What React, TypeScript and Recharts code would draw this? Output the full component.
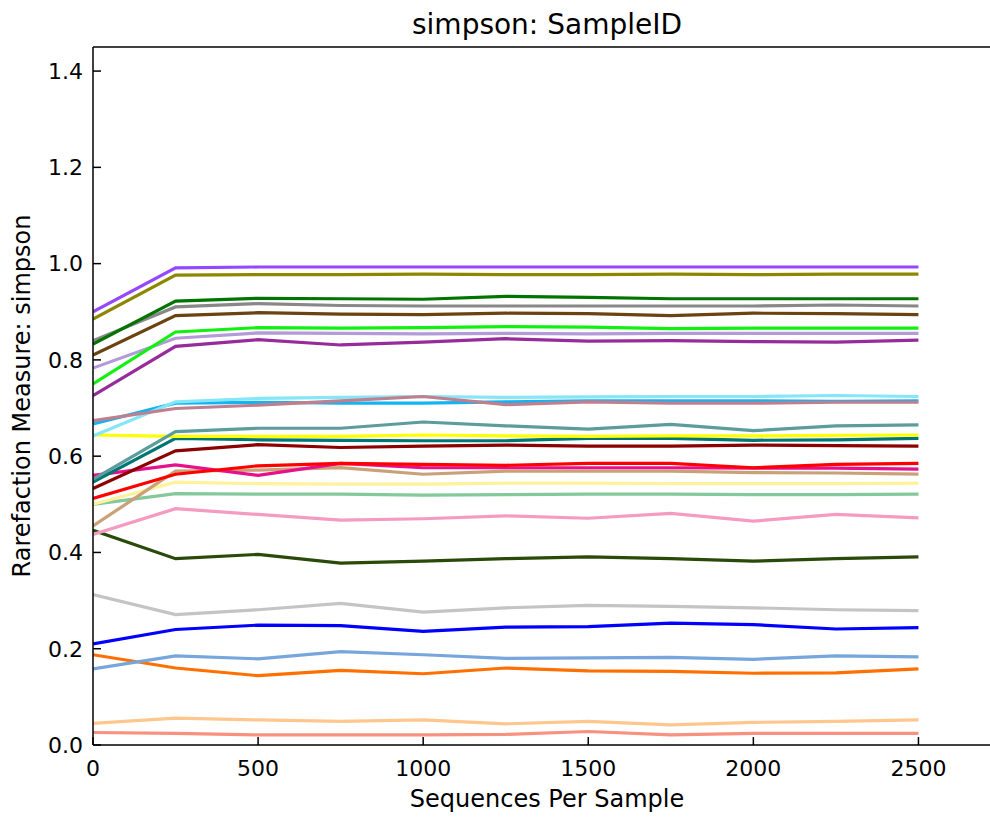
import { LineChart, Line, XAxis, YAxis } from 'recharts'

const depths = [0, 250, 500, 750, 1000, 1250, 1500, 1750, 2000, 2250, 2500]
const xTicks = [0, 500, 1000, 1500, 2000, 2500]
const yTicks = [0, 0.2, 0.4, 0.6, 0.8, 1.0, 1.2, 1.4]

const sPurple = [0.9, 0.991, 0.993, 0.993, 0.993, 0.993, 0.993, 0.993, 0.993, 0.993, 0.993]
const sOlive = [0.885, 0.976, 0.977, 0.977, 0.978, 0.977, 0.977, 0.978, 0.977, 0.978, 0.978]
const sDarkGreen = [0.833, 0.922, 0.928, 0.927, 0.926, 0.932, 0.93, 0.927, 0.927, 0.927, 0.927]
const sGray = [0.84, 0.91, 0.917, 0.913, 0.912, 0.912, 0.912, 0.912, 0.912, 0.914, 0.912]
const sBrown = [0.81, 0.892, 0.898, 0.895, 0.894, 0.897, 0.896, 0.892, 0.897, 0.896, 0.894]
const sLime = [0.75, 0.858, 0.867, 0.866, 0.867, 0.869, 0.868, 0.865, 0.866, 0.866, 0.866]
const sLavender = [0.783, 0.845, 0.856, 0.855, 0.854, 0.855, 0.854, 0.855, 0.855, 0.855, 0.855]
const sMagentaPurple = [0.726, 0.828, 0.842, 0.831, 0.837, 0.844, 0.839, 0.84, 0.838, 0.837, 0.841]
const sDeepSky = [0.667, 0.71, 0.712, 0.71, 0.71, 0.713, 0.715, 0.715, 0.715, 0.714, 0.715]
const sLightCyan = [0.642, 0.713, 0.72, 0.722, 0.724, 0.722, 0.723, 0.724, 0.724, 0.726, 0.724]
const sRosy = [0.674, 0.699, 0.706, 0.715, 0.724, 0.707, 0.713, 0.71, 0.71, 0.712, 0.712]
const sCadet = [0.552, 0.651, 0.658, 0.658, 0.671, 0.663, 0.656, 0.666, 0.653, 0.663, 0.665]
const sYellow = [0.644, 0.641, 0.641, 0.641, 0.644, 0.642, 0.641, 0.642, 0.642, 0.643, 0.644]
const sTeal = [0.546, 0.637, 0.634, 0.633, 0.632, 0.632, 0.637, 0.637, 0.633, 0.634, 0.637]
const sDarkRed = [0.533, 0.611, 0.624, 0.618, 0.621, 0.623, 0.621, 0.621, 0.623, 0.622, 0.621]
const sTan = [0.455, 0.569, 0.571, 0.576, 0.5625, 0.569, 0.569, 0.569, 0.566, 0.565, 0.5625]
const sDeepPink = [0.56, 0.582, 0.56, 0.585, 0.576, 0.576, 0.576, 0.576, 0.575, 0.575, 0.573]
const sRed = [0.512, 0.5625, 0.58, 0.585, 0.583, 0.581, 0.585, 0.585, 0.576, 0.583, 0.585]
const sKhaki = [0.5, 0.546, 0.543, 0.542, 0.542, 0.544, 0.544, 0.543, 0.543, 0.543, 0.544]
const sSeaGreen = [0.5, 0.522, 0.521, 0.521, 0.519, 0.52, 0.521, 0.521, 0.52, 0.52, 0.521]
const sPink = [0.4375, 0.491, 0.479, 0.467, 0.47, 0.476, 0.471, 0.481, 0.465, 0.479, 0.472]
const sDarkOlive = [0.446, 0.387, 0.396, 0.378, 0.382, 0.387, 0.391, 0.387, 0.382, 0.387, 0.391]
const sSilver = [0.3125, 0.271, 0.281, 0.294, 0.276, 0.285, 0.29, 0.288, 0.285, 0.281, 0.279]
const sBlue = [0.21, 0.24, 0.249, 0.248, 0.236, 0.245, 0.246, 0.253, 0.25, 0.241, 0.244]
const sSteel = [0.158, 0.185, 0.179, 0.194, 0.1875, 0.18, 0.181, 0.182, 0.178, 0.185, 0.183]
const sOrange = [0.1875, 0.16, 0.144, 0.155, 0.148, 0.16, 0.154, 0.153, 0.149, 0.15, 0.158]
const sLightOrange = [0.045, 0.056, 0.052, 0.049, 0.052, 0.044, 0.049, 0.042, 0.047, 0.049, 0.052]
const sSalmon = [0.026, 0.024, 0.021, 0.021, 0.021, 0.022, 0.028, 0.021, 0.024, 0.024, 0.024]

// [key, values, colour] in draw order
const series: [string, number[], string][] = [
  ['salmon', sSalmon, '#f8917f'],
  ['lightOrange', sLightOrange, '#ffc78e'],
  ['orange', sOrange, '#ff7000'],
  ['steel', sSteel, '#76a6dc'],
  ['blue', sBlue, '#0000ff'],
  ['silver', sSilver, '#c4c4c4'],
  ['darkOlive', sDarkOlive, '#2a4a0a'],
  ['pink', sPink, '#f59bc2'],
  ['seaGreen', sSeaGreen, '#84c99c'],
  ['khaki', sKhaki, '#fff29c'],
  ['tan', sTan, '#c9a177'],
  ['deepPink', sDeepPink, '#e8108a'],
  ['red', sRed, '#ff0000'],
  ['darkRed', sDarkRed, '#8b0000'],
  ['teal', sTeal, '#007575'],
  ['yellow', sYellow, '#ffff00'],
  ['cadet', sCadet, '#5c9c9c'],
  ['deepSky', sDeepSky, '#12b4f4'],
  ['lightCyan', sLightCyan, '#86e6f6'],
  ['rosy', sRosy, '#bf7f8e'],
  ['magentaPurple', sMagentaPurple, '#962c9c'],
  ['lavender', sLavender, '#b39ad8'],
  ['lime', sLime, '#11f011'],
  ['brown', sBrown, '#6a4310'],
  ['gray', sGray, '#888888'],
  ['darkGreen', sDarkGreen, '#007400'],
  ['olive', sOlive, '#8d8700'],
  ['purple', sPurple, '#9448ff'],
]

const data = depths.map((d, i) => {
  const row: Record<string, number> = { depth: d }
  series.forEach(([k, v]) => { row[k] = v[i] })
  return row
})

const font = 'DejaVu Sans, sans-serif'
const tickStyle = { fontSize: 22, fill: '#000', fontFamily: font }
const spine = { stroke: '#000', strokeWidth: 1.5 }

export default function App() {
  return (
    <div style={{ position: 'absolute', left: 0, top: 0, width: 990, height: 819, overflow: 'hidden', background: '#fff' }}>
      <LineChart width={1010} height={819} data={data} margin={{ top: 46, right: 8, left: 0, bottom: 0 }}>
        <XAxis
          dataKey="depth" type="number" domain={[0, 2750]} ticks={xTicks}
          height={74} tick={tickStyle} tickSize={-8} tickMargin={23}
          axisLine={spine} tickLine={spine} allowDataOverflow
        />
        <XAxis
          xAxisId="top" orientation="top" dataKey="depth" type="number" domain={[0, 2750]} ticks={xTicks}
          height={1} tick={false} tickSize={-8} axisLine={spine} tickLine={spine}
        />
        <YAxis
          type="number" domain={[0, 1.45]} ticks={yTicks} width={93}
          tick={tickStyle} tickSize={-8} tickMargin={18}
          tickFormatter={(v: number) => v.toFixed(1)}
          axisLine={spine} tickLine={spine} allowDataOverflow
        />
        <YAxis
          yAxisId="right" orientation="right" type="number" domain={[0, 1.45]} ticks={yTicks} width={1}
          tick={false} tickSize={-8} axisLine={spine} tickLine={spine}
        />
        {series.map(([k, , c]) => (
          <Line key={k} type="linear" dataKey={k} stroke={c} strokeWidth={3.2} dot={false} isAnimationActive={false} />
        ))}
      </LineChart>
      <div style={{ position: 'absolute', left: 547, top: 8, transform: 'translateX(-50%)', fontFamily: font, fontSize: 28, whiteSpace: 'nowrap' }}>
        simpson: SampleID
      </div>
      <div style={{ position: 'absolute', left: 547, top: 785, transform: 'translateX(-50%)', fontFamily: font, fontSize: 24, whiteSpace: 'nowrap' }}>
        Sequences Per Sample
      </div>
      <div style={{ position: 'absolute', left: 22, top: 396, transform: 'translate(-50%, -50%) rotate(-90deg)', fontFamily: font, fontSize: 24, whiteSpace: 'nowrap' }}>
        Rarefaction Measure: simpson
      </div>
    </div>
  )
}
